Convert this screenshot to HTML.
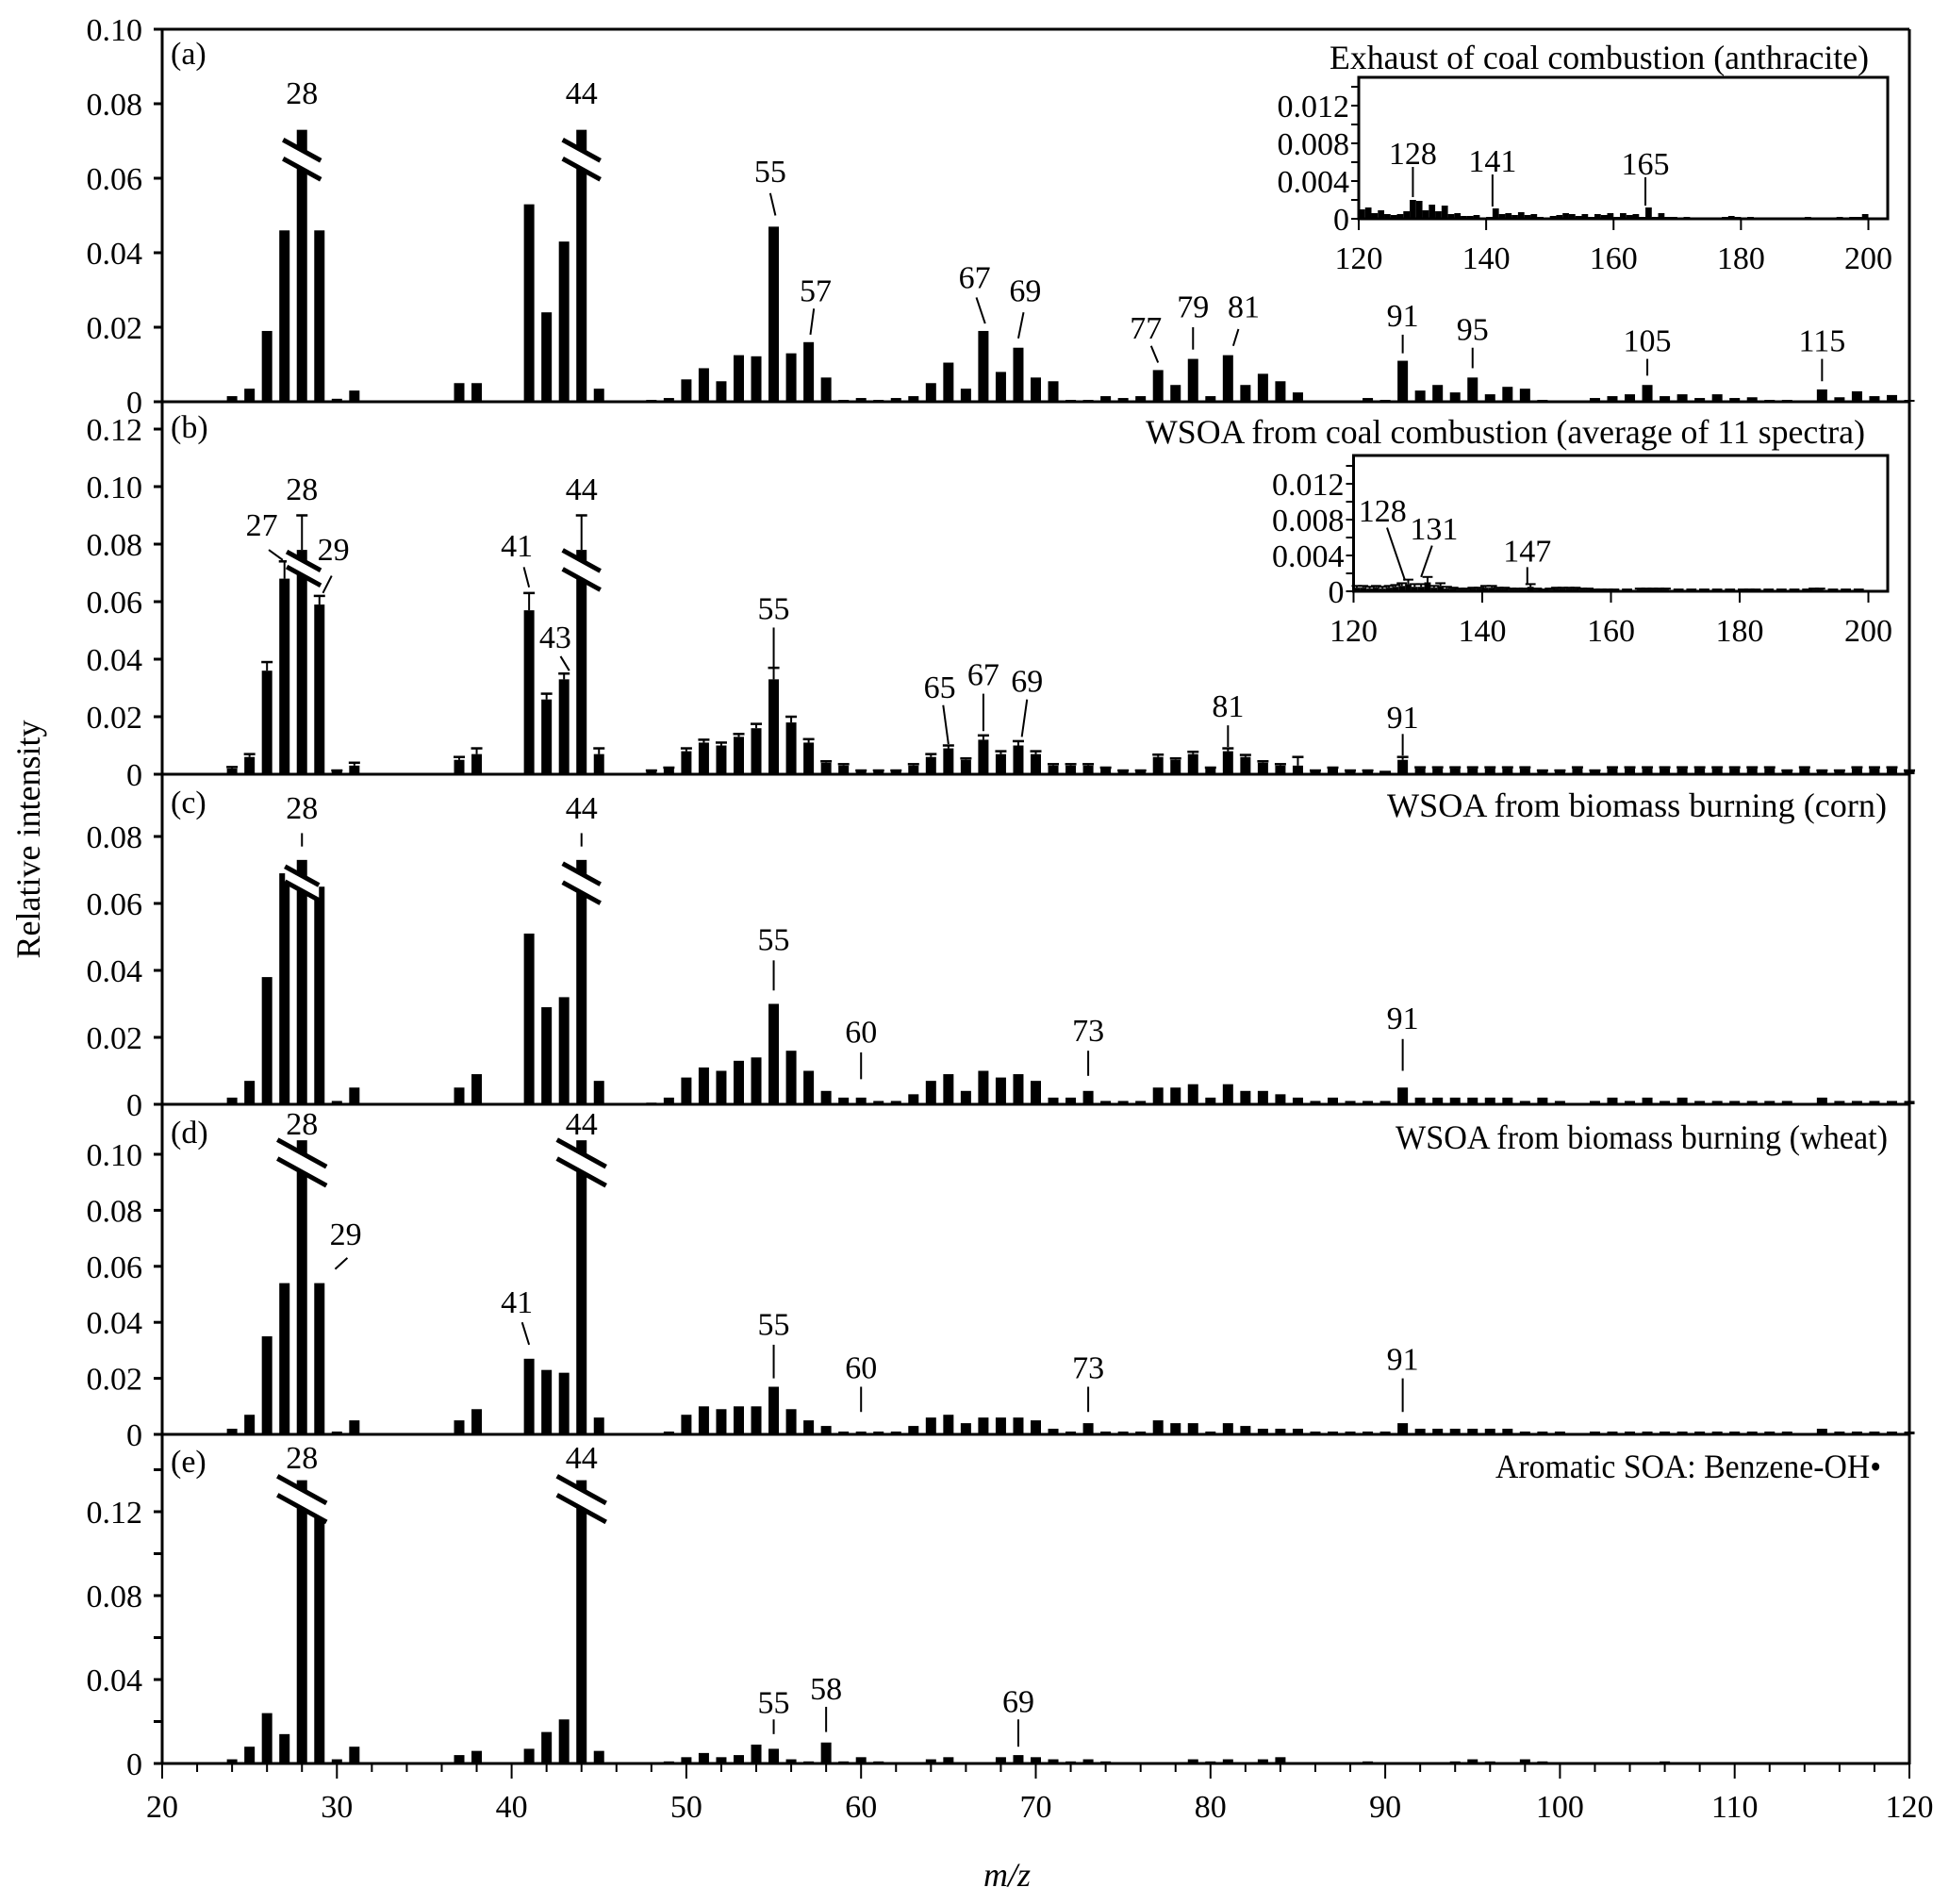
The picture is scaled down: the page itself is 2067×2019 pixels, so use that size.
<!DOCTYPE html>
<html><head><meta charset="utf-8">
<style>
html,body{margin:0;padding:0;background:#fff;}
svg{display:block;font-family:"Liberation Serif",serif;}
</style></head>
<body>
<svg id="chart" xmlns="http://www.w3.org/2000/svg" width="2067" height="2019" viewBox="0 0 2067 2019">
<rect x="0" y="0" width="2067" height="2019" fill="#fff"/>
</svg>
<script>
// ---------- DATA ----------
const mzA=[24,25,26,27,28,29,30,31,37,38,41,42,43,44,45,48,49,50,51,52,53,54,55,56,57,58,59,60,61,62,63,64,65,66,67,68,69,70,71,72,73,74,75,76,77,78,79,80,81,82,83,84,85,86,87,89,90,91,92,93,94,95,96,97,98,99,100,101,102,103,104,105,106,107,108,109,110,111,112,113,114,115,116,117,118,119,120];
const valA=[0.0015,0.0035,0.019,0.046,0.073,0.046,0.0008,0.003,0.005,0.005,0.053,0.024,0.043,0.073,0.0035,0.0005,0.001,0.006,0.009,0.0055,0.0125,0.0122,0.047,0.013,0.016,0.0065,0.0005,0.001,0.0005,0.001,0.0015,0.005,0.0105,0.0035,0.019,0.008,0.0145,0.0065,0.0055,0.0005,0.0005,0.0015,0.001,0.0015,0.0085,0.0045,0.0115,0.0015,0.0125,0.0045,0.0075,0.0055,0.0025,0.0003,0.0003,0.001,0.0005,0.011,0.003,0.0045,0.0025,0.0065,0.002,0.004,0.0035,0.0005,0.0003,0.0003,0.001,0.0015,0.002,0.0045,0.0015,0.002,0.001,0.002,0.001,0.0012,0.0005,0.0005,0.0003,0.0033,0.0012,0.0028,0.0015,0.0018,0.0005];

const mzB=[24,25,26,27,28,29,30,31,37,38,41,42,43,44,45,48,49,50,51,52,53,54,55,56,57,58,59,60,61,62,63,64,65,66,67,68,69,70,71,72,73,74,75,76,77,78,79,80,81,82,83,84,85,86,87,88,89,90,91,92,93,94,95,96,97,98,99,100,101,102,103,104,105,106,107,108,109,110,111,112,113,114,115,116,117,118,119,120];
const valB=[0.002,0.006,0.036,0.068,0.078,0.059,0.001,0.003,0.005,0.007,0.057,0.026,0.033,0.078,0.007,0.001,0.002,0.008,0.011,0.010,0.013,0.016,0.033,0.018,0.011,0.004,0.003,0.001,0.001,0.001,0.003,0.006,0.009,0.005,0.012,0.007,0.010,0.007,0.003,0.003,0.003,0.002,0.001,0.001,0.006,0.005,0.007,0.002,0.008,0.006,0.004,0.003,0.003,0.001,0.002,0.001,0.001,0.0005,0.005,0.002,0.002,0.002,0.002,0.002,0.002,0.002,0.001,0.001,0.002,0.001,0.002,0.002,0.002,0.002,0.002,0.002,0.002,0.002,0.002,0.002,0.001,0.002,0.001,0.001,0.002,0.002,0.002,0.001];
const errB=[0.0005,0.001,0.003,0.006,0.012,0.003,0.0003,0.001,0.001,0.002,0.006,0.002,0.002,0.012,0.002,0.0003,0.0003,0.001,0.001,0.001,0.001,0.0015,0.004,0.002,0.0012,0.0005,0.0005,0.0003,0.0003,0.0003,0.0005,0.001,0.001,0.0005,0.0015,0.001,0.0015,0.001,0.0005,0.0005,0.0005,0.0003,0.0003,0.0003,0.0008,0.0005,0.0008,0.0003,0.001,0.0007,0.0005,0.0005,0.003,0.0003,0.0003,0.0003,0.0003,0.0003,0.001,0.0004,0.0004,0.0004,0.0004,0.0004,0.0004,0.0004,0.0003,0.0003,0.0004,0.0003,0.0004,0.0004,0.0004,0.0004,0.0004,0.0004,0.0004,0.0004,0.0004,0.0004,0.0003,0.0004,0.0003,0.0003,0.0004,0.0004,0.0004,0.0003];

const mzC=[24,25,26,27,28,29,30,31,37,38,41,42,43,44,45,48,49,50,51,52,53,54,55,56,57,58,59,60,61,62,63,64,65,66,67,68,69,70,71,72,73,74,75,76,77,78,79,80,81,82,83,84,85,86,87,88,89,90,91,92,93,94,95,96,97,98,99,100,102,103,104,105,106,107,108,109,110,111,112,113,115,116,117,118,119,120];
const valC=[0.002,0.007,0.038,0.069,0.073,0.065,0.001,0.005,0.005,0.009,0.051,0.029,0.032,0.073,0.007,0.0005,0.002,0.008,0.011,0.010,0.013,0.014,0.030,0.016,0.010,0.004,0.002,0.002,0.001,0.001,0.003,0.007,0.009,0.004,0.010,0.008,0.009,0.007,0.002,0.002,0.004,0.001,0.001,0.001,0.005,0.005,0.006,0.002,0.006,0.004,0.004,0.003,0.002,0.001,0.002,0.001,0.001,0.001,0.005,0.002,0.002,0.002,0.002,0.002,0.002,0.001,0.002,0.001,0.001,0.002,0.001,0.002,0.001,0.002,0.001,0.001,0.001,0.001,0.001,0.001,0.002,0.001,0.001,0.001,0.001,0.001];

const mzD=[24,25,26,27,28,29,30,31,37,38,41,42,43,44,45,48,49,50,51,52,53,54,55,56,57,58,59,60,61,62,63,64,65,66,67,68,69,70,71,72,73,74,75,76,77,78,79,80,81,82,83,84,85,86,87,88,89,90,91,92,93,94,95,96,97,98,99,100,102,103,104,105,106,107,108,109,110,111,112,113,115,116,117,118,119,120];
const valD=[0.002,0.007,0.035,0.054,0.105,0.054,0.001,0.005,0.005,0.009,0.027,0.023,0.022,0.105,0.006,0.0005,0.001,0.007,0.010,0.009,0.010,0.010,0.017,0.009,0.005,0.003,0.001,0.001,0.001,0.001,0.003,0.006,0.007,0.004,0.006,0.006,0.006,0.005,0.002,0.001,0.004,0.001,0.001,0.001,0.005,0.004,0.004,0.001,0.004,0.003,0.002,0.002,0.002,0.001,0.001,0.001,0.001,0.001,0.004,0.002,0.002,0.002,0.002,0.002,0.002,0.001,0.001,0.001,0.001,0.001,0.001,0.001,0.001,0.001,0.001,0.001,0.001,0.001,0.001,0.001,0.002,0.001,0.001,0.001,0.001,0.001];

const mzE=[24,25,26,27,28,29,30,31,37,38,41,42,43,44,45,49,50,51,52,53,54,55,56,57,58,59,60,61,64,65,66,67,68,69,70,71,72,73,74,79,80,81,83,84,87,89,94,95,96,98,99,100,106,107];
const valE=[0.002,0.008,0.024,0.014,0.135,0.118,0.002,0.008,0.004,0.006,0.007,0.015,0.021,0.135,0.006,0.001,0.003,0.005,0.003,0.004,0.009,0.007,0.002,0.001,0.010,0.001,0.003,0.001,0.002,0.003,0.0005,0.0005,0.003,0.004,0.003,0.002,0.001,0.002,0.001,0.002,0.001,0.002,0.002,0.003,0.0005,0.001,0.001,0.002,0.001,0.002,0.001,0.0005,0.001,0.0005];

const mzInA=[120,121,122,123,124,125,126,127,128,129,130,131,132,133,134,135,136,137,138,139,140,141,142,143,144,145,146,147,148,149,150,151,152,153,154,155,156,157,158,159,160,161,162,163,164,165,166,167,168,169,170,171,172,173,174,175,176,177,178,179,180,181,182,183,184,185,186,187,188,189,190,191,192,193,194,195,196,197,198,199];
const valInA=[0.0010,0.0012,0.0006,0.0009,0.0005,0.0004,0.0005,0.0008,0.0020,0.0019,0.0009,0.0015,0.0008,0.0014,0.0005,0.0006,0.0003,0.0003,0.0004,0.0001,0.0002,0.0011,0.0005,0.0006,0.0004,0.0007,0.0004,0.0005,0.0002,0.0001,0.0003,0.0004,0.0006,0.0005,0.0003,0.0005,0.0002,0.0005,0.0004,0.0006,0.0002,0.0006,0.0004,0.0005,0.0002,0.0012,0.0002,0.0006,0.0002,0.0002,0.0001,0.0002,0.0001,0.0001,0.0001,0.0001,0.0001,0.0002,0.0003,0.0002,0.0001,0.0002,0.0000,0.0000,0.0000,0.0000,0.0001,0.0000,0.0001,0.0000,0.0002,0.0001,0.0001,0.0001,0.0001,0.0002,0.0001,0.0002,0.0002,0.0005];

const mzInB=[120,121,122,123,124,125,126,127,128,129,130,131,132,133,134,135,136,137,138,139,140,141,142,143,144,145,146,147,148,149,150,151,152,153,154,155,156,157,158,159,160,162,164,165,166,167,168,170,172,174,176,178,180,181,182,184,186,188,190,191,192,194,196,198];
const valInB=[0.0004,0.0004,0.0003,0.0004,0.0003,0.0004,0.0005,0.0006,0.0008,0.0005,0.0005,0.0010,0.0004,0.0006,0.0003,0.0003,0.0002,0.0002,0.0003,0.0003,0.0004,0.0004,0.0003,0.0003,0.0002,0.0002,0.0002,0.0005,0.0002,0.0001,0.0002,0.0003,0.0003,0.0003,0.0003,0.0002,0.0002,0.0001,0.0001,0.0001,0.0001,0.0001,0.0002,0.0002,0.0002,0.0002,0.0002,0.0001,0.0001,0.0001,0.0001,0.0001,0.0001,0.0001,0.0001,0.0001,0.0001,0.0001,0.0001,0.0002,0.0002,0.0001,0.0001,0.0001];
const errInB=[0.0002,0.0002,0.0002,0.0002,0.0002,0.0002,0.0002,0.0003,0.0005,0.0003,0.0003,0.0006,0.0002,0.0003,0.0002,0.0001,0.0001,0.0001,0.0001,0.0001,0.0002,0.0002,0.0001,0.0001,0.0001,0.0001,0.0001,0.0003,0.0001,0.0001,0.0001,0.0001,0.0001,0.0001,0.0001,0.0001,0.0001,0.0001,0.0001,0.0001,0.0001,0.0001,0.0001,0.0001,0.0001,0.0001,0.0001,0.0001,0.0001,0.0001,0.0001,0.0001,0.0001,0.0001,0.0001,0.0001,0.0001,0.0001,0.0001,0.0001,0.0001,0.0001,0.0001,0.0001];

const xTicks=[20,30,40,50,60,70,80,90,100,110,120];
const insetXTicks=[120,140,160,180,200];
const insetYTicks=[0,0.004,0.008,0.012];

// ---------- HELPERS ----------
const svg=document.getElementById('chart');
const NS='http://www.w3.org/2000/svg';
function el(tag,attrs,parent){const e=document.createElementNS(NS,tag);for(const k in attrs)e.setAttribute(k,attrs[k]);(parent||svg).appendChild(e);return e;}
function txt(s,attrs,parent){const e=el('text',attrs,parent);e.textContent=s;return e;}
const X0=172,X1=2025;
function X(m){return X0+(m-20)*(X1-X0)/100;}
const BW=11;

const panels={
 a:{zero:426,ppu:3950,top:31},
 b:{zero:821,ppu:3050,top:426},
 c:{zero:1171,ppu:3550,top:821},
 d:{zero:1521,ppu:2970,top:1171},
 e:{zero:1870,ppu:2225,top:1521}
};
function Y(p,v){return panels[p].zero-v*panels[p].ppu;}

function drawBars(p,mz,val,err){
  const g=el('g',{});
  
  
  mz.forEach((m,i)=>{
    const y=Y(p,val[i]);
    const r=el('rect',{x:X(m)-BW/2,y:y,width:BW,height:panels[p].zero-y,fill:'#000'},g);
    
    
    if(err){
      const ye=Y(p,val[i]+err[i]);
      el('line',{x1:X(m),x2:X(m),y1:y,y2:ye,stroke:'#000','stroke-width':2},g);
      el('line',{x1:X(m)-6,x2:X(m)+6,y1:ye,y2:ye,stroke:'#000','stroke-width':2.5},g);
    }
  });
}
function brk(p,m,v,hw,gap){
  gap=gap||20;
  const cx=X(m),cy=Y(p,v),dy=hw*0.55;
  const g=el('g',{});
  
  
  el('polygon',{points:`${cx-hw},${cy-dy-gap/2} ${cx+hw},${cy+dy-gap/2} ${cx+hw},${cy+dy+gap/2} ${cx-hw},${cy-dy+gap/2}`,fill:'#fff'},g);
  el('line',{x1:cx-hw,y1:cy-dy-gap/2,x2:cx+hw,y2:cy+dy-gap/2,stroke:'#000','stroke-width':5},g);
  el('line',{x1:cx-hw,y1:cy-dy+gap/2,x2:cx+hw,y2:cy+dy+gap/2,stroke:'#000','stroke-width':5},g);
}
function ann(p,t,lx,lv,x1,v1,x2,v2){
  const e=txt(t,{x:X(lx),y:Y(p,lv),'font-size':34,'text-anchor':'middle'});
  
  
  if(x1!==undefined){
    el('line',{x1:X(x1),y1:Y(p,v1),x2:X(x2),y2:Y(p,v2),stroke:'#000','stroke-width':2});
  }
}
function yAxis(p,ticks,labeled){
  const g=el('g',{});
  
  
  ticks.forEach(v=>{
    const y=Y(p,v);
    el('line',{x1:X0-9,x2:X0,y1:y,y2:y,stroke:'#000','stroke-width':3},g);
    if(labeled(v)){
      const s=v===0?'0':v.toFixed(2);
      const t=txt(s,{x:151,y:y+12,'font-size':34,'text-anchor':'end'},g);
      
      
    }
  });
  el('line',{x1:X0,x2:X1,y1:panels[p].zero,y2:panels[p].zero,stroke:'#000','stroke-width':3},g);
}

// ---------- FRAME ----------
el('line',{x1:X0,x2:X0,y1:31,y2:1871,stroke:'#000','stroke-width':3});
el('line',{x1:X1,x2:X1,y1:31,y2:1871,stroke:'#000','stroke-width':3});
el('line',{x1:X0,x2:X1,y1:31,y2:31,stroke:'#000','stroke-width':3});

yAxis('a',[0,0.02,0.04,0.06,0.08,0.10],()=>true);
yAxis('b',[0,0.02,0.04,0.06,0.08,0.10,0.12],()=>true);
yAxis('c',[0,0.02,0.04,0.06,0.08],()=>true);
yAxis('d',[0,0.02,0.04,0.06,0.08,0.10],()=>true);
yAxis('e',[0,0.02,0.04,0.06,0.08,0.10,0.12,0.14],v=>[0,0.04,0.08,0.12].some(t=>Math.abs(t-v)<1e-9));

(function(){
  const g=el('g',{});
  
  
  for(let m=20;m<=120;m+=2){
    const major=m%10===0;
    el('line',{x1:X(m),x2:X(m),y1:1870,y2:1870+(major?16:9),stroke:'#000','stroke-width':2},g);
  }
  xTicks.forEach(m=>{
    const t=txt(String(m),{x:X(m),y:1927,'font-size':34,'text-anchor':'middle'},g);
    
    
  });
})();

drawBars('a',mzA,valA);
drawBars('b',mzB,valB,errB);
drawBars('c',mzC,valC);
drawBars('d',mzD,valD);
drawBars('e',mzE,valE);

brk('a',28,0.065,20);brk('a',44,0.065,20);
brk('b',28.1,0.0715,18,16);brk('b',44,0.071,20);
brk('c',28,0.066,18,16);brk('c',44,0.066,20);
brk('d',28,0.097,26);brk('d',44,0.097,26);
brk('e',28,0.126,26);brk('e',44,0.126,26);

ann('a','28',28,0.080);ann('a','44',44,0.080);
ann('a','55',54.8,0.059,54.8,0.056,55.1,0.050);
ann('a','57',57.4,0.027,57.3,0.025,57.1,0.018);
ann('a','67',66.5,0.0305,66.6,0.028,67.1,0.021);
ann('a','69',69.4,0.027,69.3,0.024,69.0,0.017);
ann('a','77',76.3,0.017,76.6,0.015,77,0.0105);
ann('a','79',79,0.0227,79,0.020,79,0.014);
ann('a','81',81.9,0.0227,81.6,0.0195,81.3,0.015);
ann('a','91',91,0.0203,91,0.018,91,0.013);
ann('a','95',95,0.0166,95,0.0145,95,0.009);
ann('a','105',105,0.0136,105,0.0115,105,0.007);
ann('a','115',115,0.0136,115,0.0115,115,0.0055);

ann('b','27',25.7,0.083,26.1,0.078,26.9,0.0745);
ann('b','28',28,0.0954);
ann('b','29',29.8,0.0744,29.7,0.069,29.2,0.063);
ann('b','41',40.3,0.0757,40.7,0.072,41,0.065);
ann('b','43',42.5,0.044,42.8,0.041,43.3,0.036);
ann('b','44',44,0.0954);
ann('b','55',55,0.054,55,0.051,55,0.037);
ann('b','65',64.5,0.0265,64.7,0.024,65,0.0105);
ann('b','67',67,0.031,67,0.028,67,0.015);
ann('b','69',69.5,0.0287,69.5,0.026,69.2,0.013);
ann('b','81',81,0.020,81,0.017,81,0.0095);
ann('b','91',91,0.016,91,0.014,91,0.0065);

ann('c','28',28,0.0853,28,0.081,28,0.077);
ann('c','44',44,0.0853,44,0.081,44,0.077);
ann('c','55',55,0.046,55,0.043,55,0.034);
ann('c','60',60,0.0185,60,0.0155,60,0.0075);
ann('c','73',73,0.0189,73,0.016,73,0.0085);
ann('c','91',91,0.0226,91,0.0195,91,0.010);

ann('d','28',28,0.107);ann('d','44',44,0.107);
ann('d','29',30.5,0.0677,30.6,0.063,29.9,0.059);
ann('d','41',40.3,0.0435,40.6,0.040,41,0.032);
ann('d','55',55,0.0356,55,0.032,55,0.020);
ann('d','60',60,0.020,60,0.017,60,0.008);
ann('d','73',73,0.020,73,0.017,73,0.008);
ann('d','91',91,0.023,91,0.020,91,0.008);

ann('e','28',28,0.1406);ann('e','44',44,0.1406);
ann('e','55',55,0.024,55,0.021,55,0.014);
ann('e','58',58,0.0305,58,0.027,58,0.015);
ann('e','69',69,0.0245,69,0.021,69,0.008);

const letters=[['(a)',68],['(b)',464],['(c)',862],['(d)',1212],['(e)',1561]];
letters.forEach(([s,y])=>{const t=txt(s,{x:181,y:y,'font-size':34});});
const titles=[['Exhaust of coal combustion (anthracite)',1410,73,572],['WSOA from coal combustion (average of 11 spectra)',1215,470,763],['WSOA from biomass burning (corn)',1471,866,530],['WSOA from biomass burning (wheat)',1480,1218,522],['Aromatic SOA: Benzene-OH\u2022',1586,1567,409]];
titles.forEach(([s,x,y,w])=>{const t=txt(s,{x:x,y:y,'font-size':36,textLength:w,lengthAdjust:'spacingAndGlyphs'});});

const yt=txt('Relative intensity',{x:0,y:0,'font-size':36,'text-anchor':'middle',transform:'translate(42,890) rotate(-90)'});


const xt=el('text',{x:1068,y:2000,'font-size':36,'text-anchor':'middle','font-style':'italic'});
xt.textContent='m/z';



function inset(name,x0,x200,top,zero,pxPerUnitY,mz,val,err,anns){
  const g=el('g',{});
  
  
  const XI=m=>x0+(m-120)*(x200-x0)/80;
  const YI=v=>zero-v*pxPerUnitY;
  el('rect',{x:x0,y:top,width:2002-x0,height:zero-top,fill:'#fff',stroke:'#000','stroke-width':3},g);
  const w=(x200-x0)/80;
  mz.forEach((m,i)=>{
    const y=YI(val[i]);
    const r=el('rect',{x:XI(m),y:y,width:w,height:zero-y,fill:'#000'},g);
    
    
    if(err){const ye=YI(val[i]+err[i]);el('line',{x1:XI(m)+w/2,x2:XI(m)+w/2,y1:y,y2:ye,stroke:'#000','stroke-width':2},g);el('line',{x1:XI(m)-2,x2:XI(m)+w+2,y1:ye,y2:ye,stroke:'#000','stroke-width':2},g);}
  });
  for(let v=0;v<=0.0141;v+=0.002){el('line',{x1:x0-8,x2:x0,y1:YI(v),y2:YI(v),stroke:'#000','stroke-width':2},g);}
  insetYTicks.forEach(v=>{const t=txt(v===0?'0':v.toFixed(3),{x:x0-10,y:YI(v)+12,'font-size':34,'text-anchor':'end'},g);});
  insetXTicks.forEach(m=>{el('line',{x1:XI(m),x2:XI(m),y1:zero,y2:zero+12,stroke:'#000','stroke-width':2},g);const t=txt(String(m),{x:XI(m),y:zero+53,'font-size':34,'text-anchor':'middle'},g);});
  anns.forEach(([t,lx,lv,x1,v1,x2,v2])=>{const e=txt(t,{x:XI(lx),y:YI(lv),'font-size':34,'text-anchor':'middle'},g);el('line',{x1:XI(x1),y1:YI(v1),x2:XI(x2),y2:YI(v2),stroke:'#000','stroke-width':2},g);});
}
inset('inset-panel-a',1441,1981.5,82,232,10000,mzInA,valInA,null,[
 ['128',128.5,0.0058,128.5,0.0055,128.5,0.0023],
 ['141',141,0.005,141,0.0047,141,0.0013],
 ['165',165,0.0047,165,0.0044,165,0.0014]]);
inset('inset-panel-b',1435.5,1981.5,483,627,9500,mzInB,valInB,errInB,[
 ['128',124.5,0.0078,125.2,0.0071,128,0.0012],
 ['131',132.5,0.0058,132.2,0.0051,130.5,0.0016],
 ['147',147,0.0033,147,0.0027,147,0.0008]]);
</script>
</body></html>
